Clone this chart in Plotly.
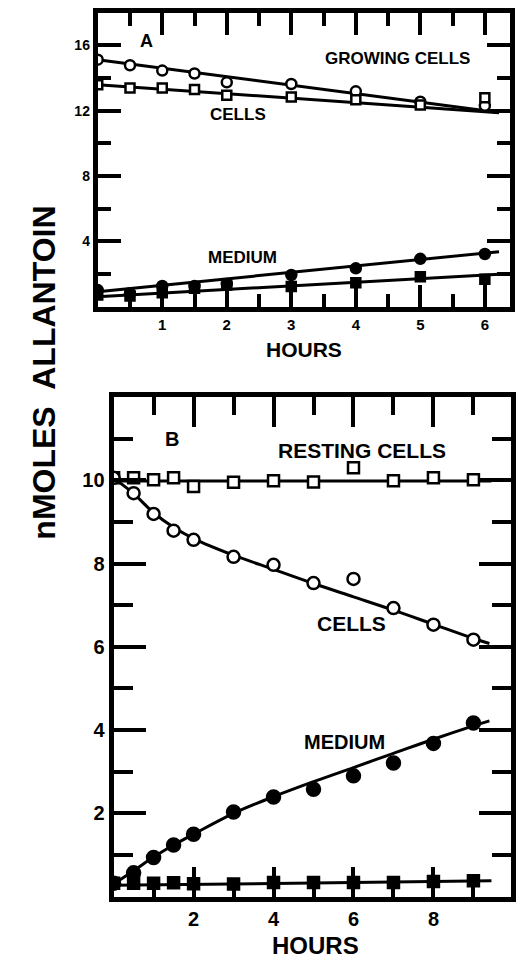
import plotly.graph_objects as go

# ---------------- Panel A data ----------------
a_hours = [0, 0.5, 1, 1.5, 2, 3, 4, 5, 6]
a_growing_cells = [15.13, 14.79, 14.46, 14.28, 13.74, 13.64, 13.19, 12.55, 12.30]
a_cells = [13.60, 13.40, 13.40, 13.30, 12.95, 12.85, 12.68, 12.35, 12.80]
a_medium_circles = [1.02, 0.82, 1.27, 1.27, 1.39, 1.94, 2.35, 2.93, 3.23]
a_medium_squares = [0.72, 0.66, 0.86, 1.13, 1.33, 1.23, 1.47, 1.84, 1.68]

a_fit_hours = [0, 6.22]
a_fit_growing = [15.13, 11.90]
a_fit_cells = [13.60, 11.88]
a_fit_medium_circles = [0.92, 3.37]
a_fit_medium_squares = [0.61, 1.99]

# ---------------- Panel B data ----------------
b_hours = [0, 0.5, 1, 1.5, 2, 3, 4, 5, 6, 7, 8, 9]
b_resting_cells = [10.06, 10.06, 10.01, 10.06, 9.85, 9.95, 9.99, 9.96, 10.30, 9.99, 10.06, 10.01]
b_cells = [10.06, 9.69, 9.19, 8.79, 8.57, 8.16, 7.97, 7.53, 7.63, 6.93, 6.53, 6.17]
b_medium_circles = [0.32, 0.57, 0.94, 1.24, 1.50, 2.03, 2.39, 2.58, 2.90, 3.21, 3.68, 4.17]
b_medium_squares = [0.32, 0.32, 0.32, 0.33, 0.31, 0.30, 0.34, 0.34, 0.34, 0.34, 0.36, 0.38]

b_fit_flat_hours = [0, 9.45]
b_fit_resting = [9.98, 9.98]
b_fit_medium_squares = [0.27, 0.38]
b_fit_curve_hours = [0, 0.5, 1, 1.5, 2, 3, 4, 5, 6, 7, 8, 9, 9.4]
b_fit_cells = [10.05, 9.68, 9.22, 8.87, 8.60, 8.20, 7.86, 7.52, 7.20, 6.88, 6.54, 6.20, 6.08]
b_fit_medium = [0.30, 0.62, 0.95, 1.24, 1.50, 2.00, 2.40, 2.76, 3.10, 3.44, 3.78, 4.10, 4.22]

# tick labels
a_xticks = [1, 2, 3, 4, 5, 6]
a_xminor = [0.5, 1.5, 2.5, 3.5, 4.5, 5.5]
a_yticks = [4, 8, 12, 16]
a_yminor = [2, 6, 10, 14]
b_xticks = [2, 4, 6, 8]
b_xminor = [1, 3, 5, 7, 9]
b_yticks = [2, 4, 6, 8, 10]
b_yminor = [1, 3, 5, 7, 9, 11]

FONT = "Liberation Sans"
W, H = 516, 963

fig = go.Figure()


def add_line(x, y, xa, ya, shape="linear"):
    fig.add_trace(go.Scatter(x=x, y=y, mode="lines", xaxis=xa, yaxis=ya,
                             line=dict(color="black", width=3, shape=shape),
                             showlegend=False, hoverinfo="skip"))


def add_markers(x, y, xa, ya, symbol, size, fill):
    fig.add_trace(go.Scatter(x=x, y=y, mode="markers", xaxis=xa, yaxis=ya,
                             marker=dict(symbol=symbol, size=size, color=fill,
                                         line=dict(color="black", width=2.5)),
                             showlegend=False, hoverinfo="skip"))


# Panel A
add_line(a_fit_hours, a_fit_growing, "x", "y")
add_line(a_fit_hours, a_fit_cells, "x", "y")
add_line(a_fit_hours, a_fit_medium_circles, "x", "y")
add_line(a_fit_hours, a_fit_medium_squares, "x", "y")
add_markers(a_hours, a_growing_cells, "x", "y", "circle", 10, "white")
add_markers(a_hours, a_cells, "x", "y", "square", 9, "white")
add_markers(a_hours, a_medium_circles, "x", "y", "circle", 10, "black")
add_markers(a_hours, a_medium_squares, "x", "y", "square", 9, "black")

# Panel B
add_line(b_fit_flat_hours, b_fit_resting, "x2", "y2")
add_line(b_fit_flat_hours, b_fit_medium_squares, "x2", "y2")
add_line(b_fit_curve_hours, b_fit_cells, "x2", "y2", "spline")
add_line(b_fit_curve_hours, b_fit_medium, "x2", "y2", "spline")
add_markers(b_hours, b_resting_cells, "x2", "y2", "square", 11, "white")
add_markers(b_hours, b_cells, "x2", "y2", "circle", 12, "white")
add_markers(b_hours, b_medium_circles, "x2", "y2", "circle", 13, "black")
add_markers(b_hours, b_medium_squares, "x2", "y2", "square", 11, "black")


def axis(domain, rng, tickvals, minorvals, ticklen, minorlen, fsize, anchor):
    return dict(domain=domain, range=rng, anchor=anchor,
                showline=True, linewidth=5, linecolor="black", mirror="allticks",
                showgrid=False, zeroline=False,
                tickmode="array", tickvals=tickvals, ticktext=[str(v) for v in tickvals],
                ticks="inside", ticklen=ticklen, tickwidth=3.5, tickcolor="black",
                minor=dict(tickmode="array", tickvals=minorvals, ticks="inside",
                           ticklen=minorlen, tickwidth=3.5, tickcolor="black", showgrid=False),
                tickfont=dict(family=FONT, size=fsize, color="black", weight="bold"),
                fixedrange=True)


a_x0, a_x1 = 98.5, 514
a_ytop, a_ybot = 12.8, 306.7
b_x0, b_x1 = 114.5, 515
b_ytop, b_ybot = 397, 896.6

fig.update_layout(
    width=W, height=H,
    margin=dict(l=0, r=0, t=0, b=0),
    paper_bgcolor="white", plot_bgcolor="white",
    xaxis=axis([a_x0 / W, a_x1 / W], [0, 6.39], a_xticks, a_xminor, 22, 13, 15, "y"),
    yaxis=axis([1 - a_ybot / H, 1 - a_ytop / H], [0, 18], a_yticks, a_yminor, 23, 13, 14, "x"),
    xaxis2=axis([b_x0 / W, b_x1 / W], [0, 9.94], b_xticks, b_xminor, 30, 18, 20, "y2"),
    yaxis2=axis([1 - b_ybot / H, 1 - b_ytop / H], [0, 12], b_yticks, b_yminor, 32, 19, 20, "x2"),
)


def label(text, x, y, xref, yref, size, angle=0):
    fig.add_annotation(text=text, x=x, y=y, xref=xref, yref=yref, showarrow=False,
                       textangle=angle, xanchor="center", yanchor="middle",
                       font=dict(family=FONT, size=size, color="black", weight="bold"))


label("A", 0.76, 16.26, "x", "y", 18)
label("GROWING CELLS", 4.64, 15.18, "x", "y", 17)
label("CELLS", 2.18, 11.76, "x", "y", 17)
label("MEDIUM", 2.25, 3.03, "x", "y", 17)
label("B", 1.45, 10.99, "x2", "y2", 20)
label("RESTING CELLS", 6.22, 10.71, "x2", "y2", 21)
label("CELLS", 5.94, 6.57, "x2", "y2", 21)
label("MEDIUM", 5.77, 3.71, "x2", "y2", 20)
label("HOURS", 306.7 / W, 1 - 350 / H, "paper", "paper", 21)
label("HOURS", 318 / W, 1 - 945 / H, "paper", "paper", 24)
label("nMOLES  ALLANTOIN", 44 / W, 1 - 373 / H, "paper", "paper", 32, -90)

fig.write_html("out.html")
